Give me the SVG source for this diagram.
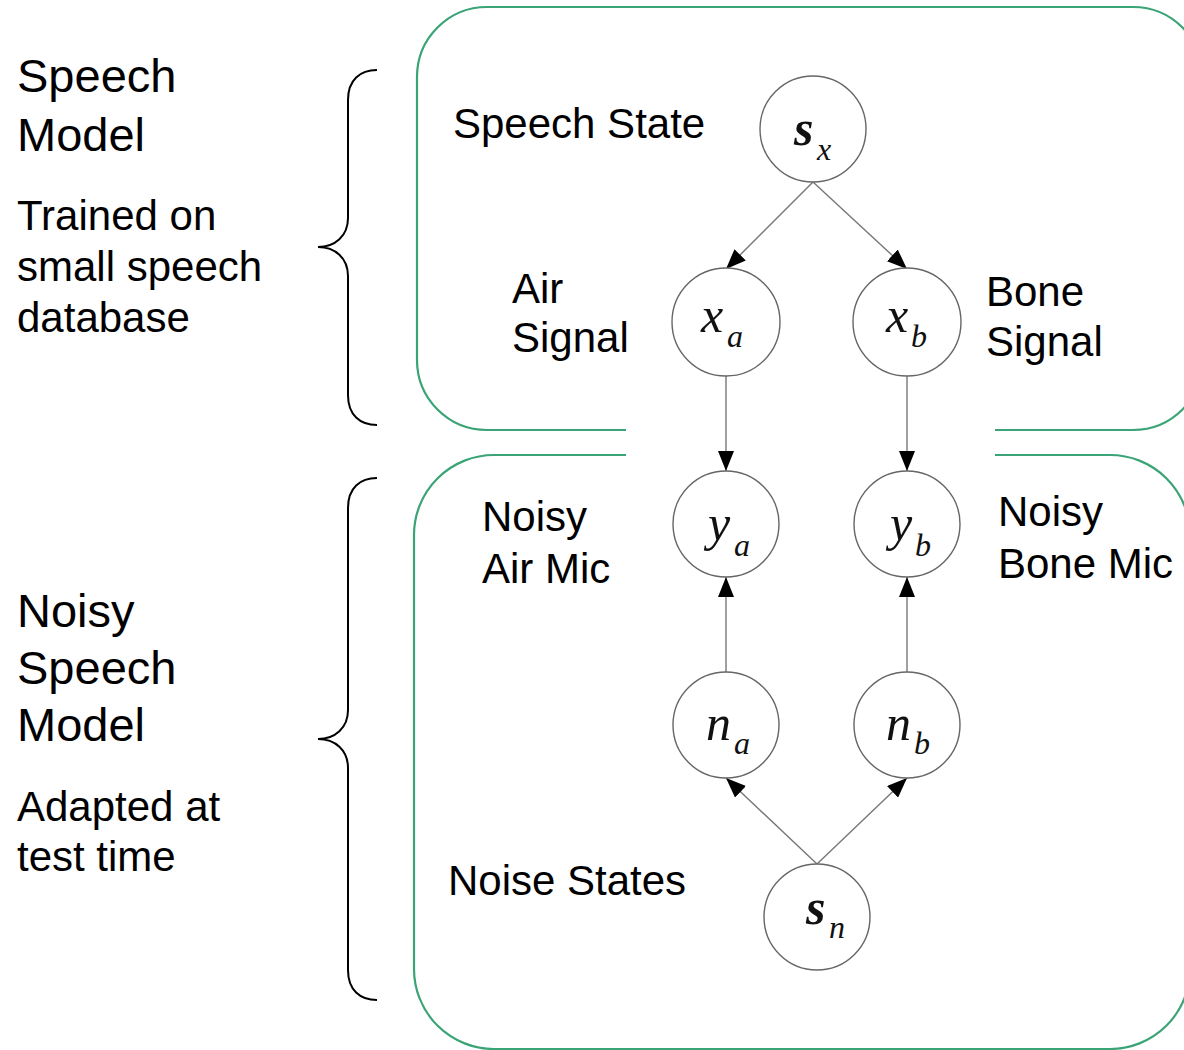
<svg xmlns="http://www.w3.org/2000/svg" width="1184" height="1050" viewBox="0 0 1184 1050">
  <defs>
    <marker id="arrow" viewBox="0 0 20 16" refX="20" refY="8" markerWidth="20" markerHeight="16" markerUnits="userSpaceOnUse" orient="auto">
      <path d="M0,0 L20,8 L0,16 Z" fill="#000"/>
    </marker>
    <style>
      .panel { fill: none; stroke: #3aa477; stroke-width: 2.2; }
      .brace { fill: none; stroke: #000; stroke-width: 2; }
      .node circle { fill: #fff; stroke: #666; stroke-width: 1.4; }
      .edge { fill: none; stroke: #777; stroke-width: 1.4; marker-end: url(#arrow); }
      .var { font-family: "Liberation Serif", "DejaVu Serif", serif; font-style: italic; fill: #111; }
      .main { font-size: 50px; }
      .sub { font-size: 32px; }
      .bold { font-weight: bold; }
      .label { font-family: "Liberation Sans", Arial, sans-serif; font-size: 42px; fill: #000; }
      .head { font-family: "Liberation Sans", Arial, sans-serif; font-size: 47px; fill: #000; }
    </style>
  </defs>
  <rect width="1184" height="1050" fill="#fff"/>

  <!-- rounded panels, bottom/top edges open where the arrows cross -->
  <g id="panels">
    <path class="panel" d="M626,430 H487 A70,70 0 0 1 417,360 V77 A70,70 0 0 1 487,7 H1133 A70,70 0 0 1 1203,77 V360 A70,70 0 0 1 1133,430 H995"/>
    <path class="panel" d="M626,455 H494 A80,80 0 0 0 414,535 V969 A80,80 0 0 0 494,1049 H1110 A80,80 0 0 0 1190,969 V535 A80,80 0 0 0 1110,455 H995"/>
  </g>

  <!-- curly braces -->
  <g id="braces">
    <path class="brace" d="M377,70 C360,70 348,80 348,100 V218 C348,236 335,247 318,247 C335,247 348,258 348,276 V395 C348,415 360,425 377,425"/>
    <path class="brace" d="M377,478 C360,478 348,488 348,508 V710 C348,728 335,739 318,739 C335,739 348,750 348,768 V970 C348,990 360,1000 377,1000"/>
  </g>

  <!-- side labels -->
  <g id="side-labels">
    <text class="head" x="17" y="92">Speech</text>
    <text class="head" x="17" y="151">Model</text>
    <text class="label" x="17" y="230">Trained on</text>
    <text class="label" x="17" y="281">small speech</text>
    <text class="label" x="17" y="332">database</text>
    <text class="head" x="17" y="627">Noisy</text>
    <text class="head" x="17" y="684">Speech</text>
    <text class="head" x="17" y="741">Model</text>
    <text class="label" x="17" y="821">Adapted at</text>
    <text class="label" x="17" y="871">test time</text>
  </g>

  <!-- node labels -->
  <g id="node-labels">
    <text class="label" x="453" y="138">Speech State</text>
    <text class="label" x="512" y="303">Air</text>
    <text class="label" x="512" y="352">Signal</text>
    <text class="label" x="986" y="306">Bone</text>
    <text class="label" x="986" y="356">Signal</text>
    <text class="label" x="482" y="531">Noisy</text>
    <text class="label" x="482" y="583">Air Mic</text>
    <text class="label" x="998" y="526">Noisy</text>
    <text class="label" x="998" y="578">Bone Mic</text>
    <text class="label" x="448" y="895">Noise States</text>
  </g>

  <!-- connectors -->
  <g id="connectors">
    <line class="edge" x1="813" y1="182" x2="726" y2="269"/>
    <line class="edge" x1="813" y1="182" x2="907" y2="269"/>
    <line class="edge" x1="726" y1="375" x2="726" y2="471"/>
    <line class="edge" x1="907" y1="375" x2="907" y2="471"/>
    <line class="edge" x1="726" y1="672" x2="726" y2="577"/>
    <line class="edge" x1="907" y1="672" x2="907" y2="577"/>
    <line class="edge" x1="817" y1="864" x2="726" y2="778"/>
    <line class="edge" x1="817" y1="864" x2="907" y2="778"/>
  </g>

  <!-- nodes -->
  <g id="node-sx" class="node">
    <circle cx="813" cy="129" r="53"/>
    <text class="var main bold" x="794" y="145">s</text>
    <text class="var sub" x="817" y="160">x</text>
  </g>
  <g id="node-xa" class="node">
    <circle cx="726" cy="322" r="54"/>
    <text class="var main" x="701" y="332">x</text>
    <text class="var sub" x="727" y="347">a</text>
  </g>
  <g id="node-xb" class="node">
    <circle cx="907" cy="322" r="54"/>
    <text class="var main" x="886" y="332">x</text>
    <text class="var sub" x="911" y="347">b</text>
  </g>
  <g id="node-ya" class="node">
    <circle cx="726" cy="524" r="53"/>
    <text class="var main" x="708" y="540">y</text>
    <text class="var sub" x="734" y="556">a</text>
  </g>
  <g id="node-yb" class="node">
    <circle cx="907" cy="524" r="53"/>
    <text class="var main" x="890" y="540">y</text>
    <text class="var sub" x="915" y="556">b</text>
  </g>
  <g id="node-na" class="node">
    <circle cx="726" cy="725" r="53"/>
    <text class="var main" x="706" y="740">n</text>
    <text class="var sub" x="734" y="754">a</text>
  </g>
  <g id="node-nb" class="node">
    <circle cx="907" cy="725" r="53"/>
    <text class="var main" x="886" y="740">n</text>
    <text class="var sub" x="914" y="754">b</text>
  </g>
  <g id="node-sn" class="node">
    <circle cx="817" cy="917" r="53"/>
    <text class="var main bold" x="806" y="924">s</text>
    <text class="var sub" x="829" y="938">n</text>
  </g>
</svg>
